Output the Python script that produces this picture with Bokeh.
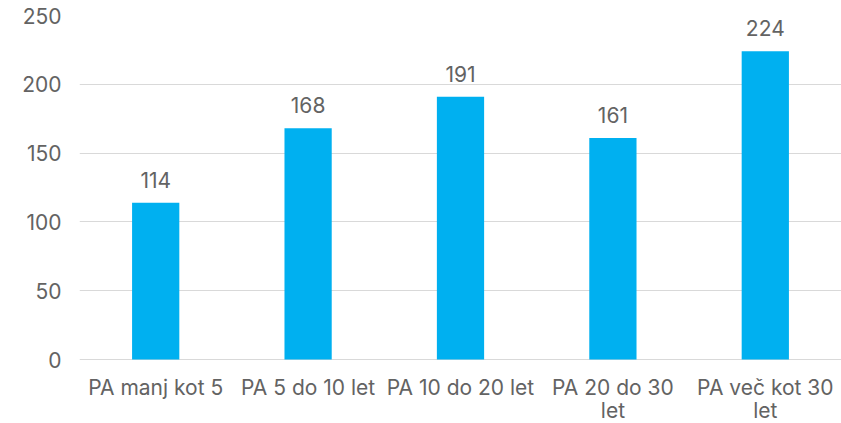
from bokeh.plotting import figure
from bokeh.models import ColumnDataSource, FactorRange, Range1d, LabelSet, FixedTicker
from bokeh.core.properties import value
from bokeh.embed import file_html
from bokeh.resources import INLINE

categories = ["PA manj kot 5", "PA 5 do 10 let", "PA 10 do 20 let", "PA 20 do 30 let", "PA več kot 30 let"]
label_line1 = ["PA manj kot 5", "PA 5 do 10 let", "PA 10 do 20 let", "PA 20 do 30", "PA več kot 30"]
label_line2 = ["", "", "", "let", "let"]
values = [114, 168, 191, 161, 224]
y_ticks = [0, 50, 100, 150, 200, 250]

src = ColumnDataSource(dict(cat=categories, val=values, txt=[str(v) for v in values],
                            l1=label_line1, l2=label_line2, base=[0] * len(values)))

font = "Inter"
fs = "21px"
col = "#636363"

# y range extends below zero to leave room for the (two-line) category labels
p = figure(x_range=FactorRange(*categories), y_range=Range1d(-46.5, 250),
           width=841, height=423, output_backend="svg", toolbar_location=None,
           min_border_left=79, min_border_right=0, min_border_top=15, min_border_bottom=0)
p.outline_line_color = None
p.vbar(x="cat", top="val", width=0.31, source=src, color="#00B0F0", line_color=None)

labels = LabelSet(x="cat", y="val", text="txt", source=src, text_align="center",
                  text_baseline="bottom", y_offset=15, text_font=value(font),
                  text_font_size=fs, text_color=col)
p.add_layout(labels)

cat1 = LabelSet(x="cat", y="base", text="l1", source=src, text_align="center",
                text_baseline="alphabetic", y_offset=-35, text_font=value(font),
                text_font_size=fs, text_color=col)
cat2 = LabelSet(x="cat", y="base", text="l2", source=src, text_align="center",
                text_baseline="alphabetic", y_offset=-58, text_font=value(font),
                text_font_size=fs, text_color=col)
p.add_layout(cat1)
p.add_layout(cat2)

p.yaxis.ticker = FixedTicker(ticks=y_ticks)
p.yaxis.axis_line_color = None
p.yaxis.major_tick_line_color = None
p.yaxis.minor_tick_line_color = None
p.yaxis.major_tick_out = 0
p.yaxis.major_tick_in = 0
p.yaxis.major_label_text_font = font
p.yaxis.major_label_text_font_size = fs
p.yaxis.major_label_text_color = col
p.yaxis.major_label_standoff = 18

p.xaxis.visible = False

p.xgrid.grid_line_color = None
p.ygrid.grid_line_color = "#d9d9d9"
p.ygrid.bounds = (0, 250)

open("out.html", "w").write(file_html(p, INLINE))
